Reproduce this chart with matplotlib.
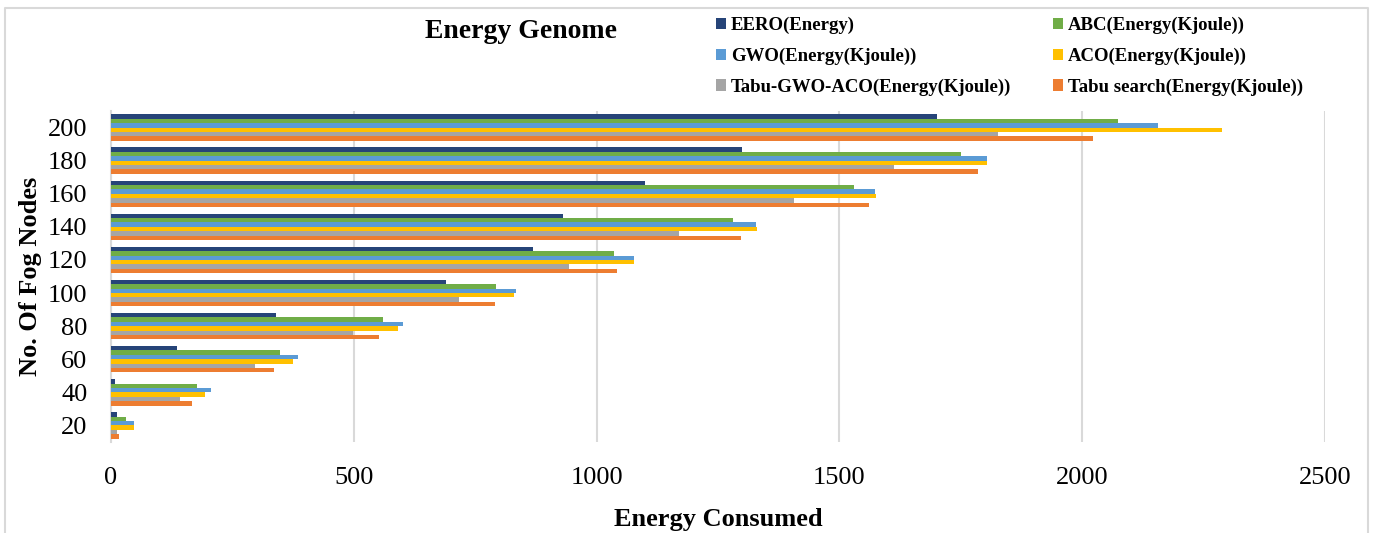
import matplotlib
matplotlib.use('Agg')
from matplotlib import pyplot as plt
import numpy as np

nodes = [20, 40, 60, 80, 100, 120, 140, 160, 180, 200]
eero = [13, 8, 135, 340, 690, 870, 930, 1100, 1300, 1700]
abc = [31, 177, 348, 561, 792, 1035, 1281, 1530, 1751, 2073]
gwo = [48, 205, 386, 601, 833, 1077, 1328, 1573, 1804, 2156]
aco = [48, 194, 374, 592, 829, 1076, 1330, 1575, 1804, 2287]
tabu_gwo_aco = [13, 143, 296, 499, 717, 944, 1170, 1407, 1612, 1826]
tabu = [16, 167, 335, 552, 791, 1042, 1297, 1561, 1785, 2022]

series = [
    ('EERO(Energy)', eero, '#264478'),
    ('ABC(Energy(Kjoule))', abc, '#70ad47'),
    ('GWO(Energy(Kjoule))', gwo, '#5b9bd5'),
    ('ACO(Energy(Kjoule))', aco, '#ffc000'),
    ('Tabu-GWO-ACO(Energy(Kjoule))', tabu_gwo_aco, '#a5a5a5'),
    ('Tabu search(Energy(Kjoule))', tabu, '#ed7d31'),
]

plt.rcParams['font.family'] = ['Liberation Serif', 'DejaVu Serif']

W, H = 1373, 533
fig = plt.figure(figsize=(W / 100, H / 100), dpi=100)
ax = fig.add_axes([111 / W, 1 - 442 / H, (1325 - 111) / W, (442 - 111) / H])

# outer chart frame (no bottom edge)
fx = [5 / W, 5 / W, 1368 / W, 1368 / W]
fy = [0, 1 - 8 / H, 1 - 8 / H, 0]
fig.add_artist(plt.Line2D(fx, fy, transform=fig.transFigure, color='#d9d9d9', lw=1.5))

y_pos = np.arange(len(nodes))
h = 0.8 / 6
for k, (name, vals, col) in enumerate(series):
    offset = 0.4 - h / 2 - k * h
    ax.barh(y_pos + offset, vals, h, color=col, label=name, zorder=3)

ax.set_xlim(0, 2500)
ax.set_ylim(-0.5, len(nodes) - 0.5)
ax.set_xticks([0, 500, 1000, 1500, 2000, 2500])
ax.set_yticks(y_pos)
ax.set_yticklabels([str(n) for n in nodes])
ax.grid(axis='x', color='#d9d9d9', lw=1.5, zorder=0)
for s in ['top', 'right', 'bottom']:
    ax.spines[s].set_visible(False)
ax.spines['left'].set_color('#d9d9d9')
ax.spines['left'].set_linewidth(1.5)
ax.tick_params(axis='both', length=0, labelsize=19)
ax.tick_params(axis='x', pad=18)
ax.tick_params(axis='y', pad=17)

ax.set_xlabel('Energy Consumed', fontsize=19, fontweight='bold', labelpad=14)
ax.set_ylabel('No. Of Fog Nodes', fontsize=19, fontweight='bold', labelpad=4)
fig.text(521 / W, 1 - 31 / H, 'Energy Genome', fontsize=20, fontweight='bold', ha='center', va='center')

# legend laid out in two columns, filled row-wise
handles, labels = ax.get_legend_handles_labels()
order = [0, 2, 4, 1, 3, 5]
leg = fig.legend([handles[i] for i in order], [labels[i] for i in order], ncol=2,
                 loc='upper left', bbox_to_anchor=(699 / W, 1 - 0 / H),
                 frameon=False, prop={'size': 13.5, 'weight': 'bold'},
                 handlelength=0.55, handleheight=0.55, handletextpad=0.25,
                 columnspacing=2.2, labelspacing=0.72)

fig.savefig('out.png', dpi=100)
